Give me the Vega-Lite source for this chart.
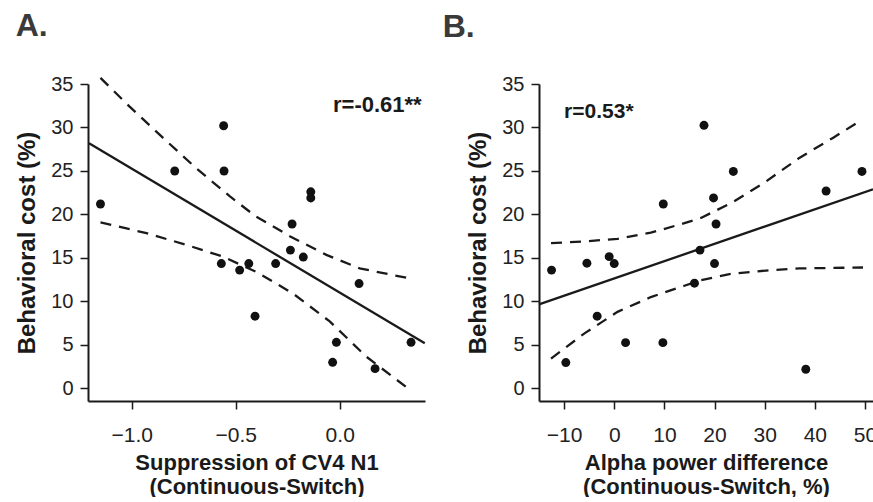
{
  "$schema": "https://vega.github.io/schema/vega-lite/v6.json",
  "padding": {"left": 15, "top": 10, "right": 0, "bottom": 0},
  "background": "white",
  "config": {
    "font": "Liberation Sans",
    "view": {"stroke": null},
    "axis": {
      "grid": false,
      "domainColor": "#1a1a1a",
      "domainWidth": 2,
      "tickColor": "#1a1a1a",
      "tickWidth": 1.5,
      "tickSize": 8,
      "labelFontSize": 20,
      "labelColor": "#222222",
      "labelFont": "Liberation Sans",
      "titleFont": "Liberation Sans",
      "titleFontWeight": "bold",
      "titleColor": "#1a1a1a"
    },
    "axisY": {"titleFontSize": 24, "labelPadding": 7, "titlePadding": 11},
    "axisX": {"labelFontSize": 21, "titleFontSize": 22, "labelPadding": 15, "titlePadding": 7, "titleLineHeight": 24},
    "title": {"fontSize": 32, "fontWeight": "bold", "color": "#3a3a3a", "anchor": "start", "frame": "bounds", "offset": 30},
    "concat": {"spacing": 12}
  },
  "datasets": {
    "ptsA": [
      {"x": -1.150, "y": 21.2}, {"x": -0.793, "y": 25.0}, {"x": -0.558, "y": 30.2}, {"x": -0.556, "y": 25.0},
      {"x": -0.569, "y": 14.35}, {"x": -0.481, "y": 13.6}, {"x": -0.437, "y": 14.35}, {"x": -0.407, "y": 8.3},
      {"x": -0.308, "y": 14.35}, {"x": -0.237, "y": 15.9}, {"x": -0.229, "y": 18.9}, {"x": -0.175, "y": 15.1},
      {"x": -0.139, "y": 22.6}, {"x": -0.139, "y": 21.9}, {"x": 0.093, "y": 12.05}, {"x": -0.016, "y": 5.3},
      {"x": -0.034, "y": 3.0}, {"x": 0.170, "y": 2.27}, {"x": 0.343, "y": 5.3}
    ],
    "fitA": [{"x": -1.205, "y": 28.2}, {"x": 0.409, "y": 5.18}],
    "ciA": [
      {"band": "upper", "x": -1.150, "y": 35.7}, {"band": "upper", "x": -1.010, "y": 32.4}, {"band": "upper", "x": -0.849, "y": 28.8},
      {"band": "upper", "x": -0.689, "y": 25.3}, {"band": "upper", "x": -0.529, "y": 22.1}, {"band": "upper", "x": -0.405, "y": 19.8},
      {"band": "upper", "x": -0.240, "y": 17.5}, {"band": "upper", "x": -0.064, "y": 15.35}, {"band": "upper", "x": 0.096, "y": 13.8},
      {"band": "upper", "x": 0.345, "y": 12.6},
      {"band": "lower", "x": -1.150, "y": 19.1}, {"band": "lower", "x": -0.929, "y": 17.85}, {"band": "lower", "x": -0.737, "y": 16.5},
      {"band": "lower", "x": -0.561, "y": 15.15}, {"band": "lower", "x": -0.397, "y": 13.35}, {"band": "lower", "x": -0.224, "y": 10.9},
      {"band": "lower", "x": -0.048, "y": 7.7}, {"band": "lower", "x": 0.128, "y": 3.65}, {"band": "lower", "x": 0.328, "y": 0.0}
    ],
    "ptsB": [
      {"x": -12.5, "y": 13.6}, {"x": -5.45, "y": 14.4}, {"x": -1.0, "y": 15.15}, {"x": 0.0, "y": 14.35},
      {"x": -9.65, "y": 2.97}, {"x": -3.4, "y": 8.3}, {"x": 2.26, "y": 5.26}, {"x": 9.7, "y": 5.26},
      {"x": 9.78, "y": 21.2}, {"x": 17.9, "y": 30.25}, {"x": 17.1, "y": 15.9}, {"x": 16.0, "y": 12.1},
      {"x": 23.75, "y": 24.95}, {"x": 19.8, "y": 21.9}, {"x": 20.3, "y": 18.9}, {"x": 20.0, "y": 14.35},
      {"x": 38.2, "y": 2.2}, {"x": 42.25, "y": 22.7}, {"x": 49.4, "y": 24.95}
    ],
    "fitB": [{"x": -15.0, "y": 9.66}, {"x": 51.6, "y": 22.9}],
    "ciB": [
      {"band": "upper", "x": -12.6, "y": 16.7}, {"band": "upper", "x": -6.0, "y": 16.9}, {"band": "upper", "x": 0.66, "y": 17.2},
      {"band": "upper", "x": 7.3, "y": 17.9}, {"band": "upper", "x": 14.0, "y": 19.0}, {"band": "upper", "x": 17.3, "y": 19.6},
      {"band": "upper", "x": 23.6, "y": 21.4}, {"band": "upper", "x": 30.3, "y": 23.8}, {"band": "upper", "x": 36.9, "y": 26.5},
      {"band": "upper", "x": 43.6, "y": 28.8}, {"band": "upper", "x": 48.9, "y": 30.7},
      {"band": "lower", "x": -12.6, "y": 3.43}, {"band": "lower", "x": -6.0, "y": 6.3}, {"band": "lower", "x": 0.66, "y": 8.8},
      {"band": "lower", "x": 7.3, "y": 10.5}, {"band": "lower", "x": 14.0, "y": 11.8}, {"band": "lower", "x": 17.3, "y": 12.45},
      {"band": "lower", "x": 23.6, "y": 13.2}, {"band": "lower", "x": 30.3, "y": 13.55}, {"band": "lower", "x": 36.9, "y": 13.8},
      {"band": "lower", "x": 43.6, "y": 13.85}, {"band": "lower", "x": 49.6, "y": 13.9}
    ]
  },
  "hconcat": [
    {
      "width": 337,
      "height": 317,
      "title": {"text": "A."},
      "encoding": {
        "x": {
          "field": "x", "type": "quantitative",
          "scale": {"domain": [-1.21, 0.41], "nice": false, "zero": false},
          "axis": {"values": [-1, -0.5, 0], "format": ".1f", "title": ["Suppression of CV4 N1", "(Continuous-Switch)"]}
        },
        "y": {
          "field": "y", "type": "quantitative",
          "scale": {"domain": [-1.45, 35], "nice": false, "zero": false},
          "axis": {"values": [0, 5, 10, 15, 20, 25, 30, 35], "title": "Behavioral cost (%)"}
        }
      },
      "layer": [
        {
          "data": {"name": "ciA"},
          "mark": {"type": "line", "strokeDash": [11, 8], "strokeWidth": 2.3, "color": "#1a1a1a", "clip": false},
          "encoding": {"detail": {"field": "band"}}
        },
        {
          "data": {"name": "fitA"},
          "mark": {"type": "line", "strokeWidth": 2.3, "color": "#1a1a1a", "clip": false},
          "encoding": {}
        },
        {
          "data": {"name": "ptsA"},
          "mark": {"type": "circle", "size": 80, "opacity": 1, "color": "#111111"},
          "encoding": {}
        },
        {
          "data": {"values": [{"x": 0.394, "y": 32.6, "label": "r=-0.61**"}]},
          "mark": {"type": "text", "align": "right", "baseline": "middle", "fontSize": 22, "fontWeight": "bold", "color": "#1a1a1a"},
          "encoding": {"text": {"field": "label"}}
        }
      ]
    },
    {
      "width": 334,
      "height": 317,
      "title": {"text": "B.", "dx": -24},
      "encoding": {
        "x": {
          "field": "x", "type": "quantitative",
          "scale": {"domain": [-15, 51.6], "nice": false, "zero": false},
          "axis": {"values": [-10, 0, 10, 20, 30, 40, 50], "format": "d", "title": ["Alpha power difference", "(Continuous-Switch, %)"]}
        },
        "y": {
          "field": "y", "type": "quantitative",
          "scale": {"domain": [-1.45, 35], "nice": false, "zero": false},
          "axis": {"values": [0, 5, 10, 15, 20, 25, 30, 35], "title": "Behavioral cost (%)"}
        }
      },
      "layer": [
        {
          "data": {"name": "ciB"},
          "mark": {"type": "line", "strokeDash": [11, 8], "strokeWidth": 2.3, "color": "#1a1a1a", "clip": false},
          "encoding": {"detail": {"field": "band"}}
        },
        {
          "data": {"name": "fitB"},
          "mark": {"type": "line", "strokeWidth": 2.3, "color": "#1a1a1a", "clip": false},
          "encoding": {}
        },
        {
          "data": {"name": "ptsB"},
          "mark": {"type": "circle", "size": 80, "opacity": 1, "color": "#111111"},
          "encoding": {}
        },
        {
          "data": {"values": [{"x": -10, "y": 31.8, "label": "r=0.53*"}]},
          "mark": {"type": "text", "align": "left", "baseline": "middle", "fontSize": 21, "fontWeight": "bold", "color": "#1a1a1a"},
          "encoding": {"text": {"field": "label"}}
        }
      ]
    }
  ]
}
